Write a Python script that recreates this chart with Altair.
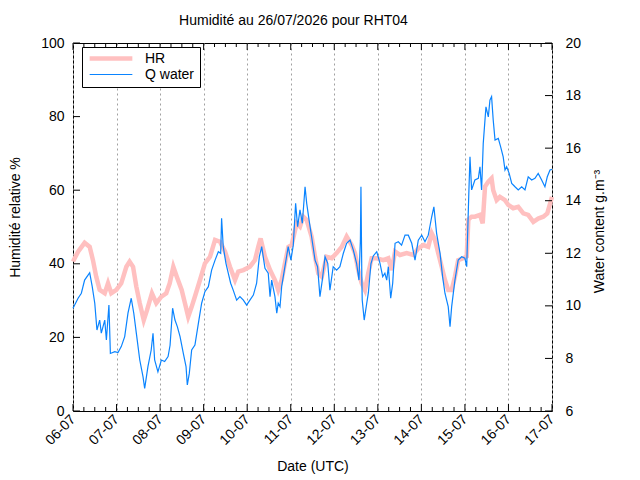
import altair as alt
import pandas as pd

# ---------------- data ----------------
# hours since 06-07 00:00 (UTC) and relative humidity (%)
hr_hours = [0.0, 2.8, 6.4, 9.2, 11.0, 12.8, 14.7, 17.5, 19.3, 21.1,
            23.9, 26.6, 29.4, 31.2, 33.1, 34.9, 36.8, 39.0, 40.8, 43.5,
            45.9, 48.7, 51.4, 53.3, 55.3, 57.2, 59.9, 61.7, 63.5, 65.4,
            67.2, 70.0, 72.7, 75.5, 78.3, 81.0, 83.8, 86.5, 89.3, 91.1,
            93.9, 97.5, 100.3, 102.1, 103.4, 105.8, 108.6, 111.3, 113.1, 115.0,
            116.8, 118.7, 120.5, 123.3, 125.1, 126.9, 128.8, 131.5, 133.4, 135.2,
            137.1, 139.8, 142.6, 145.3, 148.1, 150.8, 153.6, 155.4, 157.2, 159.1,
            160.9, 162.7, 164.6, 167.4, 171.0, 173.8, 175.6, 177.5, 180.2, 183.9,
            187.5, 190.3, 193.1, 195.8, 197.7, 199.5, 201.3, 203.2, 205.0, 206.8,
            208.7, 210.5, 212.3, 215.1, 217.0, 217.9, 219.7, 221.5, 224.3, 225.8,
            227.1, 228.9, 230.7, 231.6, 233.5, 235.3, 238.1, 239.9, 242.6, 245.4,
            248.2, 250.9, 253.7, 256.4, 259.2, 261.4, 264.0]
hr_values = [40.6, 43.3, 45.7, 44.6, 41.0, 36.5, 32.9, 32.0, 34.7, 32.0,
             32.9, 34.7, 39.2, 40.6, 39.2, 33.8, 29.3, 24.7, 27.4, 32.0,
             29.3, 31.1, 32.0, 34.7, 39.2, 36.5, 32.9, 29.3, 25.6, 28.3,
             31.1, 35.6, 40.1, 41.9, 46.5, 46.0, 43.3, 39.2, 35.6, 37.9,
             38.3, 39.2, 41.0, 44.6, 46.9, 41.9, 38.3, 35.6, 32.9, 35.6,
             40.1, 44.6, 45.1, 51.0, 50.1, 52.8, 51.9, 47.4, 41.9, 37.4,
             36.5, 41.9, 41.5, 42.9, 44.6, 47.4, 45.1, 42.9, 38.3, 34.7,
             32.9, 37.4, 41.5, 41.5, 41.0, 41.5, 38.3, 43.3, 42.4, 42.9,
             42.4, 44.2, 45.1, 44.6, 48.3, 46.5, 42.9, 39.2, 35.6, 32.9,
             32.9, 36.5, 41.0, 41.5, 42.0, 52.0, 52.8, 52.8, 53.3, 51.0,
             61.0, 62.3, 63.2, 60.0, 57.3, 58.2, 57.3, 56.0, 55.1, 55.5,
             53.7, 53.3, 51.4, 52.3, 52.8, 53.7, 58.2]

# hours since 06-07 00:00 (UTC) and water content (g.m-3)
q_hours = [0.0, 2.8, 4.6, 6.4, 8.3, 9.2, 10.6, 12.0, 13.2, 14.7,
           15.6, 17.5, 18.4, 19.8, 20.6, 23.0, 24.8, 26.6, 28.5, 30.3,
           32.1, 33.5, 34.9, 36.8, 38.6, 39.5, 41.3, 43.1, 44.1, 45.0,
           46.8, 48.7, 50.5, 52.4, 53.5, 54.9, 56.2, 57.5, 59.0, 60.8,
           62.3, 63.0, 64.1, 65.4, 67.2, 69.1, 70.9, 72.7, 74.6, 76.4,
           78.3, 80.1, 81.4, 81.9, 82.8, 84.3, 85.6, 86.9, 88.3, 90.2,
           92.0, 93.9, 95.7, 97.5, 99.4, 101.2, 102.7, 104.0, 105.8, 107.6,
           108.6, 109.5, 111.3, 112.3, 113.1, 114.1, 115.0, 116.8, 118.6, 120.1,
           121.4, 122.7, 123.8, 125.1, 126.4, 127.9, 128.8, 130.1, 131.5, 133.4,
           134.8, 136.1, 137.4, 138.9, 140.4, 141.6, 143.4, 145.3, 147.1, 149.0,
           150.8, 152.7, 154.5, 156.3, 157.6, 158.4, 158.7, 159.2, 159.4, 160.5,
           161.9, 162.8, 164.2, 165.5, 167.4, 169.2, 170.7, 171.9, 172.9, 173.8,
           175.1, 176.2, 177.5, 179.3, 181.1, 183.0, 184.8, 186.7, 188.5, 190.3,
           192.2, 194.0, 195.8, 197.7, 198.9, 200.4, 202.3, 203.7, 205.0, 206.8,
           207.8, 208.7, 210.5, 212.3, 214.2, 216.0, 217.0, 217.3, 218.1, 218.8,
           219.7, 221.5, 223.4, 224.3, 225.2, 226.1, 227.6, 228.9, 229.8, 230.7,
           231.6, 232.6, 234.4, 235.7, 237.1, 238.1, 239.0, 240.4, 241.8, 243.6,
           245.4, 247.3, 249.1, 250.9, 252.8, 254.6, 256.4, 258.3, 260.1, 261.4,
           262.9, 264.0]
q_values = [9.91, 10.29, 10.48, 10.98, 11.17, 11.26, 10.73, 10.10, 9.08, 9.46,
            8.96, 9.46, 8.70, 10.03, 8.19, 8.26, 8.22, 8.45, 8.83, 9.72,
            10.29, 9.72, 8.96, 7.94, 7.30, 6.86, 7.69, 8.32, 8.96, 7.94,
            7.49, 7.94, 7.88, 8.07, 8.50, 9.91, 9.46, 9.21, 8.83, 8.19,
            7.69, 6.99, 7.43, 8.32, 8.51, 9.33, 10.10, 10.54, 10.73, 11.36,
            11.74, 12.06, 12.00, 13.33, 12.25, 11.62, 11.24, 10.86, 10.60, 10.22,
            10.35, 10.22, 10.03, 10.22, 10.41, 10.86, 11.87, 12.25, 11.43, 11.24,
            10.35, 10.98, 10.35, 9.72, 10.10, 9.97, 10.73, 11.49, 12.25, 11.74,
            12.31, 13.90, 13.01, 13.65, 13.14, 14.53, 13.90, 13.27, 12.63, 11.74,
            11.49, 10.35, 10.98, 11.87, 11.62, 10.60, 11.49, 11.36, 11.49, 12.00,
            12.38, 12.50, 12.12, 11.62, 10.98, 12.50, 14.53, 11.00, 10.22, 9.46,
            10.10, 10.50, 11.60, 11.90, 12.06, 11.62, 11.11, 11.24, 10.98, 11.49,
            10.29, 10.86, 12.38, 12.44, 12.31, 12.69, 12.69, 12.38, 11.74, 12.50,
            12.69, 12.44, 12.69, 13.39, 13.77, 12.76, 12.00, 11.11, 10.48, 9.97,
            9.21, 9.97, 10.98, 11.74, 11.87, 11.81, 11.49, 12.25, 14.15, 15.67,
            14.41, 14.79, 14.85, 15.29, 14.41, 16.18, 17.57, 17.19, 17.83, 17.96,
            17.07, 16.31, 16.37, 16.05, 15.67, 15.17, 15.29, 15.04, 14.66, 14.53,
            14.41, 14.53, 14.41, 14.91, 14.79, 14.85, 15.04, 14.79, 14.53, 14.91,
            15.17, 15.19]

day_numbers = list(range(6, 18))                 # 06-07 ... 17-07
major_hours = list(range(0, 265, 24))
minor_hours = [h for h in range(0, 265, 6) if h % 24 != 0]
hr_tick_values = [0, 20, 40, 60, 80, 100]
q_tick_values = [6, 8, 10, 12, 14, 16, 18, 20]
series_names = ["HR", "Q water"]
series_colors = ["#ffc0c0", "#0a84ff"]
series_widths = [4.5, 1.2]

# ---------------- tables ----------------
START = pd.Timestamp("2026-07-06 00:00:00")


def to_dates(hours):
    return [START + pd.Timedelta(hours=h) for h in hours]


hr_df = pd.DataFrame({"date": to_dates(hr_hours), "value": hr_values, "serie": "HR"})
q_df = pd.DataFrame({"date": to_dates(q_hours), "value": q_values, "serie": "Q water"})
major_df = pd.DataFrame({"date": to_dates(major_hours)})
minor_df = pd.DataFrame({"date": to_dates(minor_hours)})
hr_ticks_df = pd.DataFrame({"value": hr_tick_values})
q_ticks_df = pd.DataFrame({"value": q_tick_values})

W, H = 479, 368
FONT = "Liberation Sans"
MAJ, MIN = 7, 4

x_scale = alt.Scale(domain=[alt.DateTime(year=2026, month=7, date=6),
                            alt.DateTime(year=2026, month=7, date=17)])
hr_scale = alt.Scale(domain=[0, 100], nice=False, zero=False)
q_scale = alt.Scale(domain=[6, 20], nice=False, zero=False)

x_axis = alt.Axis(values=[alt.DateTime(year=2026, month=7, date=d) for d in day_numbers],
                  format="%d-%m", labelAngle=315, labelAlign="right",
                  labelBaseline="middle", labelPadding=6, ticks=False, domain=False,
                  grid=True, gridDash=[2, 3], gridColor="#a0a0a0", gridWidth=1,
                  title="Date (UTC)", titlePadding=12)
y_axis = alt.Axis(values=hr_tick_values, orient="left", ticks=False, domain=False,
                  grid=False, labelPadding=9, title="Humidité relative %",
                  titlePadding=18, titleY=174)
y2_axis = alt.Axis(values=q_tick_values, orient="right", ticks=False, domain=False,
                   grid=False, labelPadding=13, title="Water content g.m⁻³",
                   titlePadding=26, titleAngle=270, titleY=188)

legend = alt.Legend(title=None, orient="none", legendX=9, legendY=4,
                    symbolType="stroke", symbolSize=1823, clipHeight=13,
                    labelOffset=10, labelFont=FONT, labelFontSize=14,
                    labelColor="black", strokeColor="black", fillColor="white",
                    padding=5, rowPadding=1)

color_enc = alt.Color("serie:N", scale=alt.Scale(domain=series_names, range=series_colors),
                      legend=legend)
width_enc = alt.StrokeWidth("serie:N", scale=alt.Scale(domain=series_names, range=series_widths),
                            legend=legend)

hr_line = alt.Chart(hr_df).mark_line().encode(
    x=alt.X("date:T", scale=x_scale, axis=x_axis),
    y=alt.Y("value:Q", scale=hr_scale, axis=y_axis),
    color=color_enc, strokeWidth=width_enc)

q_line = alt.Chart(q_df).mark_line().encode(
    x=alt.X("date:T", scale=x_scale, axis=x_axis),
    y=alt.Y("value:Q", scale=q_scale, axis=y2_axis),
    color=color_enc, strokeWidth=width_enc)


def x_ticks(df, length, top):
    base = alt.Chart(df).mark_rule(color="black", strokeWidth=1)
    if top:
        return base.encode(x=alt.X("date:T", scale=x_scale, axis=x_axis),
                           y=alt.value(0), y2=alt.value(length))
    return base.encode(x=alt.X("date:T", scale=x_scale, axis=x_axis),
                       y=alt.value(H), y2=alt.value(H - length))


left_ticks = alt.Chart(hr_ticks_df).mark_rule(color="black", strokeWidth=1).encode(
    y=alt.Y("value:Q", scale=hr_scale, axis=y_axis), x=alt.value(0), x2=alt.value(MAJ))
right_ticks = alt.Chart(q_ticks_df).mark_rule(color="black", strokeWidth=1).encode(
    y=alt.Y("value:Q", scale=q_scale, axis=y2_axis), x=alt.value(W - MAJ), x2=alt.value(W))

left_group = alt.layer(hr_line, left_ticks,
                       x_ticks(major_df, MAJ, False), x_ticks(major_df, MAJ, True),
                       x_ticks(minor_df, MIN, False), x_ticks(minor_df, MIN, True))
right_group = alt.layer(q_line, right_ticks)

chart = alt.layer(left_group, right_group).resolve_scale(y="independent").properties(
    width=W, height=H, autosize="none",
    padding={"left": 65, "top": 35, "right": 80, "bottom": 68},
    title=alt.Title("Humidité au 26/07/2026 pour RHT04", font=FONT, fontSize=14,
                    fontWeight="normal", color="black", anchor="middle",
                    offset=8, dx=-19),
).configure_view(stroke="black", strokeWidth=1).configure_axis(
    labelFont=FONT, titleFont=FONT, labelFontSize=14, titleFontSize=14,
    labelColor="black", titleColor="black", titleFontWeight="normal")

chart.save("out.html", embed_options={"renderer": "svg", "actions": False})
